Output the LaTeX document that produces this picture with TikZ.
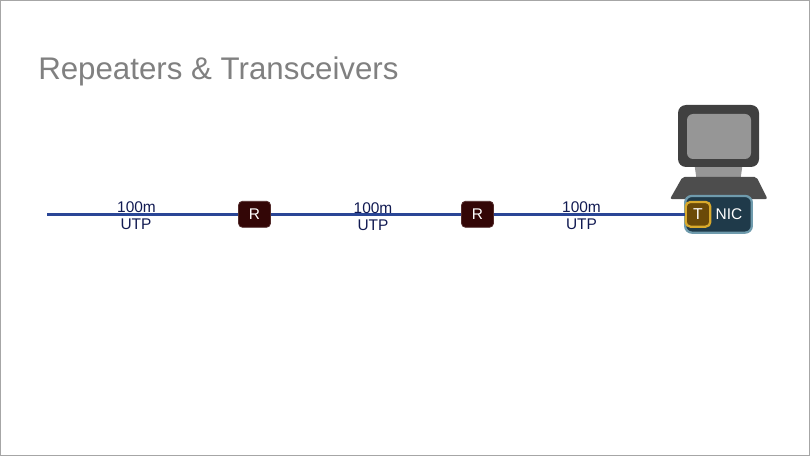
\documentclass[tikz,border=0pt]{standalone}
\usepackage{fontspec}
\setmainfont{Liberation Sans}
\definecolor{cableblue}{HTML}{2A4696}
\definecolor{labelnavy}{HTML}{111A52}
\definecolor{repfill}{HTML}{330606}
\definecolor{nicfill}{HTML}{1F3A4A}
\definecolor{nicline}{HTML}{6F9BAD}
\definecolor{tfill}{HTML}{6B4A08}
\definecolor{tline}{HTML}{D9AA2C}
\definecolor{pcdark}{HTML}{404040}
\definecolor{pcbase}{HTML}{4D4D4D}
\definecolor{pcgrey}{HTML}{969696}
\begin{document}
\begin{tikzpicture}[x=0.75pt,y=0.75pt]
\tikzstyle{every node}+=[inner sep=0pt]
\tikzstyle{repeater}=[draw=repfill!85!white,fill=repfill,line width=0.6pt,rounded corners=3pt,minimum width=24pt,minimum height=19.5pt,text=white,font=\fontsize{11.6}{13}\selectfont]
\tikzstyle{cablelabel}=[text=labelnavy,font=\fontsize{11.6}{13}\selectfont]
\useasboundingbox (0,0) rectangle (810,-456);
\draw [black!35,line width=0.9pt] (0.5,-0.5) rectangle (809.5,-455.5);
\node [anchor=base west,text=black!50,font=\fontsize{23.45}{28}\selectfont] (title) at (38,-80) {Repeaters \& Transceivers};
% computer
\fill [pcgrey] (694.5,-165) -- (742.5,-165) -- (740.5,-179) -- (696.5,-179) -- cycle;
\fill [pcbase,rounded corners=1.5pt] (682.5,-177) -- (756.5,-177) -- (767.5,-199) -- (670,-199) -- cycle;
\fill [pcdark,rounded corners=6pt] (678,-105) rectangle (759,-167);
\fill [pcgrey,rounded corners=4.5pt] (687,-114) rectangle (751,-159);
% nodes
\coordinate (cableend) at (47,-214.3);
\node [repeater] (repa) at (254.5,-214.3) {R};
\node [repeater] (repb) at (477.5,-214.3) {R};
\node [draw=nicline,fill=nicfill,line width=1.7pt,rounded corners=5pt,minimum width=50pt,minimum height=27.5pt] (nic) at (718.5,-214.3) {};
\node [draw=tline,fill=tfill,line width=1.7pt,rounded corners=3.5pt,minimum width=18.5pt,minimum height=18.5pt,text=white,font=\fontsize{11.8}{13}\selectfont] (trans) at (698,-214.3) {T};
\node [text=white,font=\fontsize{11.6}{13}\selectfont] (nictext) at (729,-214.5) {NIC};
% cable
\draw [cableblue,line width=1.9pt] (cableend) -- (repa);
\draw [cableblue,line width=1.9pt] (repa) -- (repb);
\draw [cableblue,line width=1.9pt] (repb) -- (trans);
% labels
\node [cablelabel] (laba) at (136.5,-207.5) {100m};
\node [cablelabel] (labb) at (136,-224.5) {UTP};
\node [cablelabel] (labc) at (373,-208) {100m};
\node [cablelabel] (labd) at (373,-225.5) {UTP};
\node [cablelabel] (labe) at (581.5,-207) {100m};
\node [cablelabel] (labf) at (581.5,-224.5) {UTP};
\end{tikzpicture}
\end{document}
